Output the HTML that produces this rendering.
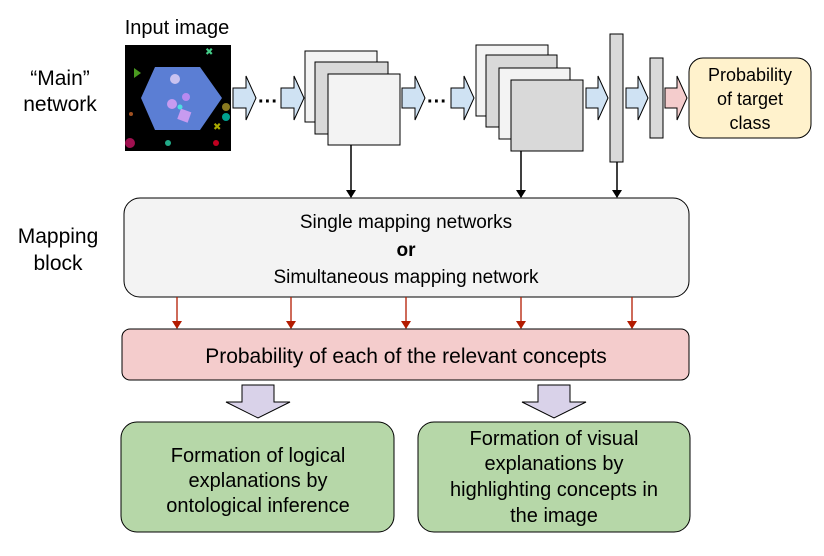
<!DOCTYPE html>
<html><head><style>html,body{margin:0;padding:0;background:#fff}svg{display:block}</style></head><body>
<svg width="824" height="556" viewBox="0 0 824 556" xmlns="http://www.w3.org/2000/svg" font-family="Liberation Sans, sans-serif">
<defs>
<marker id="ab" markerWidth="8" markerHeight="10" refX="7" refY="5" orient="auto" markerUnits="userSpaceOnUse"><path d="M0,0 L8,5 L0,10z" fill="#000"/></marker>
<marker id="ar" markerWidth="8" markerHeight="10" refX="7" refY="5" orient="auto" markerUnits="userSpaceOnUse"><path d="M0,0 L8,5 L0,10z" fill="#b31b00"/></marker>
</defs>
<g font-size="21" fill="#000" text-anchor="middle">
<text x="60" y="85">“Main”</text><text x="60" y="111">network</text>
<text x="58" y="243">Mapping</text><text x="58" y="270">block</text>
<text x="177" y="34" font-size="20">Input image</text>
</g>
<!-- input image -->
<rect x="125" y="45" width="106" height="106" fill="#000"/>
<polygon points="155,67 200,67 222,98 200,130 155,130 141,98" fill="#5b7ed4"/>
<circle cx="175" cy="79" r="5" fill="#c9c2f0"/><circle cx="172" cy="104" r="5" fill="#c79bf0"/><circle cx="186" cy="97" r="4" fill="#b88af0"/>
<rect x="179" y="110" width="11" height="11" fill="#c79bf0" transform="rotate(20 184 115)"/>
<circle cx="180" cy="107" r="2.5" fill="#4fe0e0"/>
<circle cx="226" cy="107" r="4" fill="#8a7a20"/><circle cx="226" cy="117" r="4" fill="#00a090"/><circle cx="216" cy="143" r="3" fill="#c00020"/>
<circle cx="130" cy="143" r="5" fill="#a01050"/><circle cx="131" cy="114" r="2" fill="#a05020"/>
<polygon points="134,68 134,78 141,73" fill="#4a9a20"/><text x="205" y="55" font-size="10" fill="#4c8" >✖</text>
<text x="213" y="130" font-size="10" fill="#aa0">✖</text><circle cx="168" cy="143" r="3" fill="#2a8"/>
<!-- block arrows -->
<g fill="#cfe2f3" stroke="#000" stroke-width="1">
<path d="M233,88 h13 v-12 l10,22 l-10,22 v-12 h-13z"/>
<path d="M281,88 h13 v-12 l10,22 l-10,22 v-12 h-13z"/>
<path d="M402,88 h13 v-12 l10,22 l-10,22 v-12 h-13z"/>
<path d="M451,88 h13 v-12 l10,22 l-10,22 v-12 h-13z"/>
<path d="M586,88 h12 v-12 l10,22 l-10,22 v-12 h-12z"/>
<path d="M626,88 h12 v-12 l10,22 l-10,22 v-12 h-12z"/>
</g>
<path d="M665,88 h12 v-12 l10,22 l-10,22 v-12 h-12z" fill="#f4cccc" stroke="#000"/>
<g font-size="20" font-weight="bold"><text x="258" y="108">···</text><text x="427" y="108">···</text></g>
<!-- stacks -->
<g stroke="#000" stroke-width="1">
<rect x="305" y="51" width="72" height="71" fill="#f3f3f3"/>
<rect x="315" y="62" width="73" height="72" fill="#d9d9d9"/>
<rect x="328" y="74" width="72" height="71" fill="#f3f3f3"/>
<rect x="476" y="45" width="72" height="71" fill="#f3f3f3"/>
<rect x="486" y="55" width="71" height="72" fill="#d9d9d9"/>
<rect x="499" y="68" width="71" height="71" fill="#f3f3f3"/>
<rect x="511" y="80" width="72" height="71" fill="#d9d9d9"/>
<rect x="610" y="34" width="13" height="128" fill="#d9d9d9"/>
<rect x="650" y="58" width="13" height="80" fill="#d9d9d9"/>
<rect x="689" y="58" width="122" height="80" rx="14" fill="#fff2cc"/>
</g>
<g font-size="18" text-anchor="middle"><text x="750" y="81">Probability</text><text x="750" y="105">of target</text><text x="750" y="129">class</text></g>
<g stroke="#000" stroke-width="1.5">
<line x1="351" y1="145" x2="351" y2="197" marker-end="url(#ab)"/>
<line x1="521" y1="151" x2="521" y2="197" marker-end="url(#ab)"/>
<line x1="617" y1="162" x2="617" y2="197" marker-end="url(#ab)"/>
</g>
<rect x="124" y="198" width="565" height="99" rx="16" fill="#f3f3f3" stroke="#000"/>
<g font-size="19" text-anchor="middle"><text x="406" y="228">Single mapping networks</text><text x="406" y="256" font-weight="bold">or</text><text x="406" y="283">Simultaneous mapping network</text></g>
<g stroke="#b31b00" stroke-width="1.3">
<line x1="177" y1="297" x2="177" y2="328" marker-end="url(#ar)"/>
<line x1="291" y1="297" x2="291" y2="328" marker-end="url(#ar)"/>
<line x1="406" y1="297" x2="406" y2="328" marker-end="url(#ar)"/>
<line x1="521" y1="297" x2="521" y2="328" marker-end="url(#ar)"/>
<line x1="632" y1="297" x2="632" y2="328" marker-end="url(#ar)"/>
</g>
<rect x="122" y="329" width="567" height="51" rx="8" fill="#f4cccc" stroke="#000"/>
<text x="406" y="363" font-size="21" text-anchor="middle">Probability of each of the relevant concepts</text>
<g fill="#d9d2e9" stroke="#000">
<path d="M242,385 h32 v17 h16 l-32,16 l-32,-16 h16z"/>
<path d="M538,385 h32 v17 h16 l-32,16 l-32,-16 h16z"/>
</g>
<g fill="#b6d7a8" stroke="#000">
<rect x="121" y="422" width="273" height="110" rx="16"/>
<rect x="418" y="422" width="272" height="110" rx="16"/>
</g>
<g font-size="20" text-anchor="middle">
<text x="258" y="462">Formation of logical</text><text x="258" y="487">explanations by</text><text x="258" y="512">ontological inference</text>
<text x="554" y="445">Formation of visual</text><text x="554" y="470">explanations by</text><text x="554" y="496">highlighting concepts in</text><text x="554" y="522">the image</text>
</g>
</svg>
</body></html>
